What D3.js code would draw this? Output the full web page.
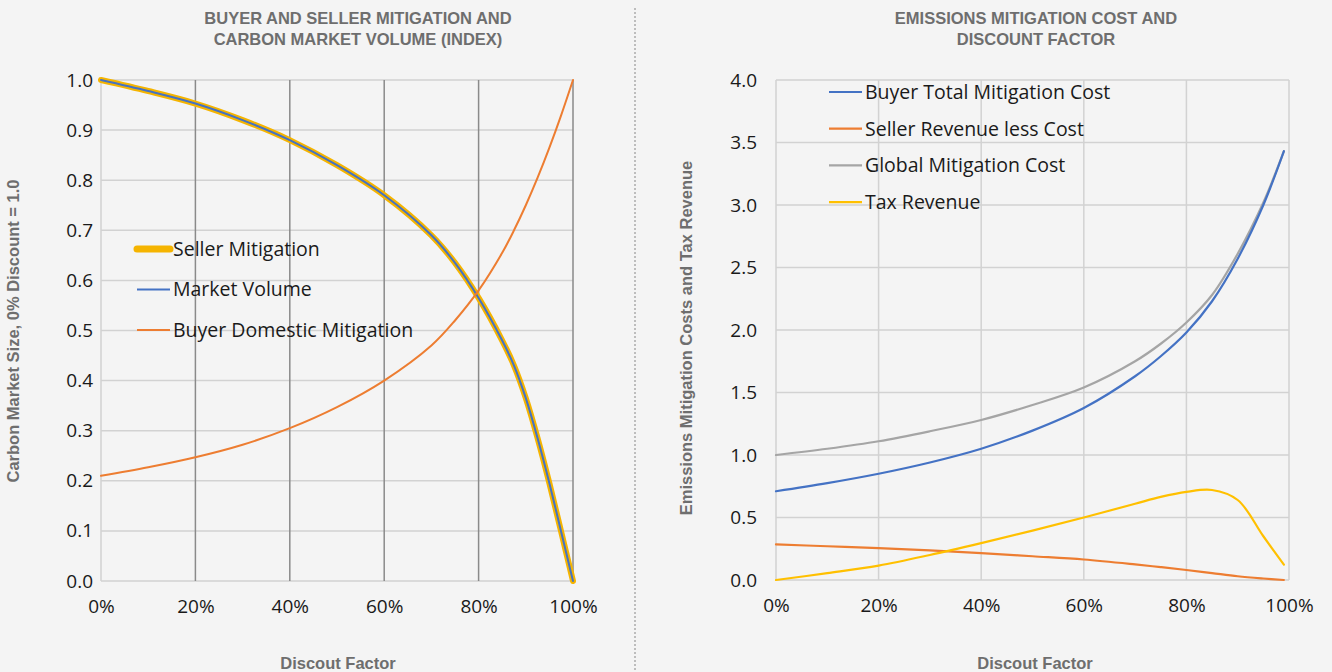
<!DOCTYPE html>
<html>
<head>
<meta charset="utf-8">
<script src="https://cdn.jsdelivr.net/npm/d3@7"></script>
<style>
  html, body { margin: 0; padding: 0; background: #f4f4f4; }
  svg { display: block; }
  .title, .axis-title { font-family: "Liberation Sans Narrow", "Liberation Sans", Arial, sans-serif; font-weight: bold; fill: #6e6e6e; }
  .tick text, .legend text { font-family: "Open Sans", "Noto Sans", sans-serif; fill: #1a1a1a; }
</style>
</head>
<body>
<div id="chart"></div>
<script>
// left panel: index values
const discountLeft = [0, 0.1, 0.2, 0.3, 0.4, 0.5, 0.6, 0.7, 0.75, 0.8, 0.85, 0.875, 0.9, 0.925, 0.95, 0.975, 1.0]
const sellerMitigation = [1.0, 0.978, 0.953, 0.92, 0.88, 0.83, 0.77, 0.69, 0.635, 0.565, 0.48, 0.43, 0.365, 0.285, 0.195, 0.098, 0.0]
const marketVolume = sellerMitigation.slice()
const buyerDomestic = [0.21, 0.227, 0.247, 0.272, 0.305, 0.347, 0.40, 0.47, 0.52, 0.58, 0.655, 0.70, 0.75, 0.805, 0.865, 0.93, 1.0]

// right panel: costs and revenue
const discountRight = [0, 0.1, 0.2, 0.3, 0.4, 0.5, 0.6, 0.7, 0.75, 0.8, 0.85, 0.9, 0.95, 0.99]
const buyerTotalCost = [0.71, 0.775, 0.85, 0.94, 1.05, 1.195, 1.376, 1.63, 1.79, 1.98, 2.23, 2.57, 3.0, 3.43]
const sellerRevenue = [0.285, 0.27, 0.255, 0.237, 0.215, 0.19, 0.164, 0.125, 0.103, 0.08, 0.055, 0.03, 0.012, 0.0]
const globalCost = [1.0, 1.05, 1.11, 1.19, 1.28, 1.40, 1.54, 1.75, 1.89, 2.06, 2.28, 2.61, 3.02, 3.43]
const taxRevenue = [0, 0.055, 0.115, 0.2, 0.295, 0.395, 0.50, 0.61, 0.665, 0.705, 0.72, 0.64, 0.35, 0.123]

const xTicks = [0, 0.2, 0.4, 0.6, 0.8, 1.0]
const leftYTicks = d3.range(0, 1.01, 0.1)
const rightYTicks = d3.range(0, 4.01, 0.5)

const W = 1332, H = 672
const svg = d3.select('#chart').append('svg')
    .attr('width', W)
    .attr('height', H)

svg.append('rect').attr('width', W).attr('height', H).attr('fill', '#f4f4f4')

// divider
svg.append('line')
    .attr('x1', 635).attr('x2', 635)
    .attr('y1', 8).attr('y2', H)
    .attr('stroke', '#bdbdbd')
    .attr('stroke-width', 2)
    .attr('stroke-dasharray', '2,2')

function panel(opts) {
    const { x, y, xData, series, vGridColor, titleLines, titleX, yTitle, yTitleX, yTitleY, xTitleX, yFmt, yPad } = opts
    const g = svg.append('g')

    // horizontal grid
    g.append('g').selectAll('line')
        .data(opts.yTicks)
        .enter().append('line')
        .attr('x1', x.range()[0]).attr('x2', x.range()[1])
        .attr('y1', d => y(d)).attr('y2', d => y(d))
        .attr('stroke', '#d2d2d2')
        .attr('stroke-width', 1.5)

    // vertical grid
    g.append('g').selectAll('line')
        .data(xTicks)
        .enter().append('line')
        .attr('x1', d => x(d)).attr('x2', d => x(d))
        .attr('y1', y.range()[1]).attr('y2', y.range()[0])
        .attr('stroke', (d, i) => i === 0 ? '#d2d2d2' : vGridColor)
        .attr('stroke-width', 1.5)

    // axes (labels only)
    const yAxis = g.append('g')
        .attr('transform', `translate(${x.range()[0]},0)`)
        .call(d3.axisLeft(y).tickValues(opts.yTicks).tickSize(0).tickPadding(yPad).tickFormat(yFmt))
    const xAxis = g.append('g')
        .attr('transform', `translate(0,${y.range()[0]})`)
        .call(d3.axisBottom(x).tickValues(xTicks).tickSize(0).tickPadding(19).tickFormat(d3.format('.0%')))
    ;[yAxis, xAxis].forEach(a => {
        a.select('.domain').remove()
        a.selectAll('text').attr('font-size', 19).attr('font-family', null)
    })

    // series
    const line = d3.line()
        .x((d, i) => x(xData[i]))
        .y(d => y(d))
        .curve(d3.curveCatmullRom.alpha(0.5))
    series.forEach(s => {
        g.append('path')
            .datum(s.values)
            .attr('fill', 'none')
            .attr('stroke', s.color)
            .attr('stroke-width', s.width)
            .attr('stroke-linejoin', 'round')
            .attr('stroke-linecap', 'round')
            .attr('d', line)
    })

    // legend
    const lg = g.append('g').attr('class', 'legend')
    opts.legend.forEach((s, i) => {
        const ly = opts.legendY + i * opts.legendStep
        lg.append('line')
            .attr('x1', opts.legendX).attr('x2', opts.legendX + 33)
            .attr('y1', ly).attr('y2', ly)
            .attr('stroke', s.color)
            .attr('stroke-width', s.legendWidth || 2.2)
            .attr('stroke-linecap', s.legendWidth ? 'round' : 'butt')
        lg.append('text')
            .attr('x', opts.legendX + 36)
            .attr('y', ly)
            .attr('dy', '0.35em')
            .attr('font-size', 19.5)
            .text(s.name)
    })

    // titles
    const t = g.append('text').attr('class', 'title')
        .attr('text-anchor', 'middle')
        .attr('font-size', 16.5)
    titleLines.forEach((l, i) => {
        t.append('tspan').attr('x', titleX).attr('y', 24 + i * 20.5).text(l)
    })

    g.append('text').attr('class', 'axis-title')
        .attr('text-anchor', 'middle')
        .attr('font-size', 16.5)
        .attr('transform', `translate(${yTitleX},${yTitleY}) rotate(-90)`)
        .text(yTitle)

    g.append('text').attr('class', 'axis-title')
        .attr('text-anchor', 'middle')
        .attr('font-size', 16.5)
        .attr('x', xTitleX).attr('y', 669)
        .text('Discout Factor')
}

const leftSeries = [
    { name: 'Seller Mitigation', values: sellerMitigation, color: '#f5b400', width: 6, legendWidth: 7 },
    { name: 'Market Volume', values: marketVolume, color: '#4472c4', width: 2 },
    { name: 'Buyer Domestic Mitigation', values: buyerDomestic, color: '#ed7d31', width: 2 },
]

panel({
    x: d3.scaleLinear([0, 1], [101, 573]),
    y: d3.scaleLinear([0, 1], [581, 80]),
    xData: discountLeft,
    yTicks: leftYTicks,
    yFmt: d3.format('.1f'),
    yPad: 8,
    series: leftSeries,
    legend: leftSeries,
    legendX: 137, legendY: 249, legendStep: 40.5,
    vGridColor: '#8a8a8a',
    titleLines: ['BUYER AND SELLER MITIGATION AND', 'CARBON MARKET VOLUME (INDEX)'],
    titleX: 358,
    yTitle: 'Carbon Market Size, 0% Discount = 1.0',
    yTitleX: 19, yTitleY: 331,
    xTitleX: 338,
})

const rightSeries = [
    { name: 'Buyer Total Mitigation Cost', values: buyerTotalCost, color: '#4472c4', width: 2.2 },
    { name: 'Seller Revenue less Cost', values: sellerRevenue, color: '#ed7d31', width: 2.2 },
    { name: 'Global Mitigation Cost', values: globalCost, color: '#a5a5a5', width: 2.2 },
    { name: 'Tax Revenue', values: taxRevenue, color: '#ffc000', width: 2.2 },
]

panel({
    x: d3.scaleLinear([0, 1], [776, 1289]),
    y: d3.scaleLinear([0, 4], [580, 80]),
    xData: discountRight,
    yTicks: rightYTicks,
    yFmt: d3.format('.1f'),
    yPad: 19,
    series: [rightSeries[2], rightSeries[0], rightSeries[1], rightSeries[3]],
    legend: rightSeries,
    legendX: 829, legendY: 92, legendStep: 36.7,
    vGridColor: '#d2d2d2',
    titleLines: ['EMISSIONS MITIGATION COST AND', 'DISCOUNT FACTOR'],
    titleX: 1036,
    yTitle: 'Emissions Mitigation Costs and Tax Revenue',
    yTitleX: 692, yTitleY: 338,
    xTitleX: 1035,
})
</script>
</body>
</html>
